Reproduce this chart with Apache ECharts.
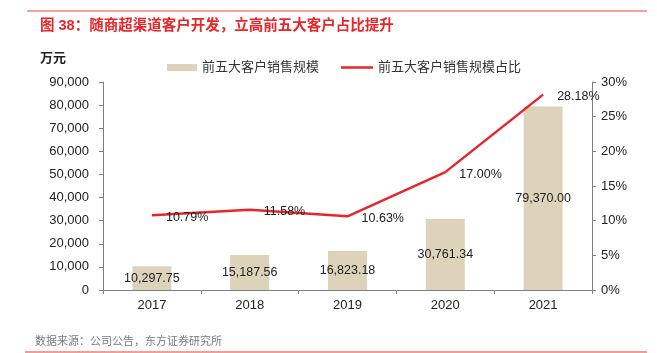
<!DOCTYPE html>
<html>
<head>
<meta charset="utf-8">
<script src="https://cdn.jsdelivr.net/npm/echarts@6/dist/echarts.min.js"></script>
<style>
  html, body { margin: 0; padding: 0; background: #fff; }
  #main { width: 657px; height: 353px; }
</style>
</head>
<body>
<div id="main"></div>
<script>
const years = ['2017', '2018', '2019', '2020', '2021'];
const salesTop5 = [10297.75, 15187.56, 16823.18, 30761.34, 79370.00]; // 万元
const shareTop5 = [10.79, 11.58, 10.63, 17.00, 28.18]; // %
const leftTicks = { min: 0, max: 90000, interval: 10000 };
const rightTicks = { min: 0, max: 30, interval: 5 };

const barName = '前五大客户销售规模';
const lineName = '前五大客户销售规模占比';
const font = 'Arial, "Liberation Sans", "Noto Sans CJK SC", sans-serif';

function fmtNum (v, d) {
    return Number(v).toLocaleString('en-US', { minimumFractionDigits: d, maximumFractionDigits: d });
}

let myChart = echarts.init(document.getElementById('main'));
myChart.setOption({
    backgroundColor: '#fff',
    animation: false,
    textStyle: { fontFamily: font },
    title: {
        text: '图 38：随商超渠道客户开发，立高前五大客户占比提升',
        left: 35,
        top: 14,
        textStyle: { fontSize: 14.5, fontWeight: 'bold', color: '#e8262a', fontFamily: font }
    },
    graphic: [
        { type: 'line', shape: { x1: 27, y1: 11, x2: 647, y2: 11 }, style: { stroke: '#f4a29b', lineWidth: 2 } },
        { type: 'line', shape: { x1: 25, y1: 352, x2: 647, y2: 352 }, style: { stroke: '#f07c72', lineWidth: 1.5 } },
        { type: 'text', left: 40, top: 52, style: { text: '万元', font: 'bold 13px ' + font, fill: '#222' } },
        { type: 'text', left: 35, top: 336, style: { text: '数据来源：公司公告，东方证券研究所', font: '11px ' + font, fill: '#7a7a7a' } }
    ],
    legend: [{
        data: [barName],
        left: 162,
        top: 56,
        itemWidth: 30,
        itemHeight: 7,
        icon: 'rect',
        textStyle: { fontSize: 13, color: '#333' }
    }, {
        data: [lineName],
        left: 336,
        top: 56,
        itemWidth: 32,
        itemHeight: 2.5,
        icon: 'rect',
        textStyle: { fontSize: 13, color: '#333' }
    }],
    grid: { left: 103, right: 65, top: 82, bottom: 63 },
    xAxis: {
        type: 'category',
        data: years,
        axisLine: { lineStyle: { color: '#808080' } },
        axisTick: { show: true, length: 4, lineStyle: { color: '#808080' } },
        axisLabel: { color: '#222', fontSize: 13, margin: 9 }
    },
    yAxis: [{
        type: 'value',
        min: leftTicks.min,
        max: leftTicks.max,
        interval: leftTicks.interval,
        splitLine: { show: false },
        axisLine: { show: true, lineStyle: { color: '#808080' } },
        axisTick: { show: true, length: 4, lineStyle: { color: '#808080' } },
        axisLabel: { color: '#222', fontSize: 13, margin: 14, formatter: v => fmtNum(v, 0) }
    }, {
        type: 'value',
        min: rightTicks.min,
        max: rightTicks.max,
        interval: rightTicks.interval,
        splitLine: { show: false },
        axisLine: { show: true, lineStyle: { color: '#808080' } },
        axisTick: { show: true, length: 4, lineStyle: { color: '#808080' } },
        axisLabel: { color: '#222', fontSize: 13, margin: 9, formatter: '{value}%' }
    }],
    series: [{
        name: barName,
        type: 'bar',
        data: salesTop5,
        barWidth: 39,
        itemStyle: { color: '#ddd3bb' },
        label: {
            show: true,
            position: 'inside',
            color: '#222',
            fontSize: 12.5,
            formatter: p => fmtNum(p.value, 2)
        }
    }, {
        name: lineName,
        type: 'line',
        yAxisIndex: 1,
        data: shareTop5,
        showSymbol: true,
        symbol: 'circle',
        symbolSize: 0.1,
        itemStyle: { color: '#e8262a' },
        lineStyle: { color: '#e8262a', width: 2.5 },
        label: {
            show: true,
            position: 'right',
            distance: 14,
            offset: [0, 2],
            color: '#222',
            fontSize: 12.5,
            formatter: p => p.value.toFixed(2) + '%'
        }
    }]
});
</script>
</body>
</html>
